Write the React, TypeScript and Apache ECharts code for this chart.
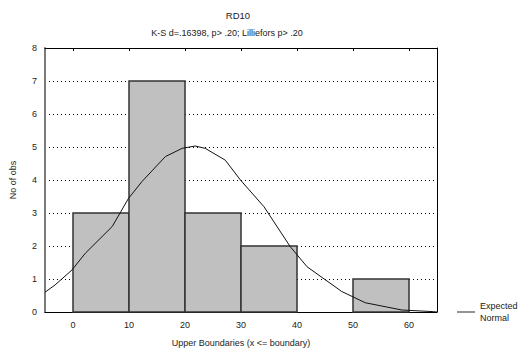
import React, { useEffect, useRef } from "react";
import * as echarts from "echarts";

const titleText = "RD10";
const subtitleText = "K-S d=.16398, p> .20; Lilliefors p> .20";
const xTicks = [0, 10, 20, 30, 40, 50, 60];
const binStarts = [0, 10, 20, 30, 40, 50];
const binEnds = [10, 20, 30, 40, 50, 60];
const counts = [3, 7, 3, 2, 0, 1];
const curveX = [-5, -3.2, -0.2, 2.2, 7.0, 9.9, 12.3, 16.5, 19.5, 21.8, 23.6, 27.2, 29.9, 34.1, 38.8, 41.8, 48.0, 52.2, 58.75, 64.4, 65];
const curveY = [0.6, 0.82, 1.27, 1.78, 2.59, 3.44, 3.95, 4.71, 4.96, 5.03, 4.96, 4.6, 4.0, 3.19, 1.98, 1.37, 0.62, 0.28, 0.06, 0.01, 0.0];

const FONT = "Liberation Sans, Arial, sans-serif";

export default function App() {
  const ref = useRef<HTMLDivElement>(null);
  useEffect(() => {
    if (!ref.current) return;
    const chart = echarts.init(ref.current, undefined, { renderer: "svg" });
    const bins = binStarts.map((s, i) => [s, binEnds[i], counts[i]]).filter((b) => b[2] > 0);
    const curve = curveX.map((x, i) => [x, curveY[i]]);
    chart.setOption({
      animation: false,
      backgroundColor: "#ffffff",
      textStyle: { fontFamily: FONT },
      title: [
        { text: titleText, left: 233, top: 5, textAlign: "center", textStyle: { fontSize: 9.5, fontWeight: "normal", color: "#222", fontFamily: FONT } },
        { text: subtitleText, left: 222, top: 23, textAlign: "center", textStyle: { fontSize: 9, fontWeight: "normal", color: "#222", fontFamily: FONT } },
      ],
      grid: { left: 43, right: 92, top: 48, bottom: 42, containLabel: false },
      xAxis: [
        {
          type: "value",
          min: -5,
          max: 65,
          name: "Upper Boundaries (x <= boundary)",
          nameLocation: "middle",
          nameGap: 26,
          nameTextStyle: { fontSize: 9, color: "#222", fontFamily: FONT },
          axisLine: { show: true, onZero: false, lineStyle: { color: "#000", width: 1 } },
          axisTick: { show: false },
          splitLine: { show: false },
          axisLabel: { customValues: xTicks, fontSize: 9, color: "#222", margin: 8, fontFamily: FONT },
        },
        {
          type: "value",
          position: "top",
          min: -5,
          max: 65,
          axisLine: { show: true, onZero: false, lineStyle: { color: "#000", width: 1 } },
          axisTick: { show: true, inside: true, length: 3, customValues: xTicks, lineStyle: { color: "#000" } },
          axisLabel: { show: false },
          splitLine: { show: false },
        },
      ],
      yAxis: [
        {
          type: "value",
          min: 0,
          max: 8,
          interval: 1,
          name: "No of obs",
          nameLocation: "middle",
          nameGap: 28,
          nameTextStyle: { fontSize: 9, color: "#222", fontFamily: FONT },
          axisLine: { show: true, onZero: false, lineStyle: { color: "#7a7a7a", width: 2 } },
          axisTick: { show: false },
          axisLabel: { fontSize: 9, color: "#222", margin: 8, fontFamily: FONT },
          splitLine: { show: true, lineStyle: { color: "#000", type: [1, 3], width: 1 } },
        },
        {
          type: "value",
          position: "right",
          min: 0,
          max: 8,
          interval: 1,
          axisLine: { show: true, onZero: false, lineStyle: { color: "#000", width: 1 } },
          axisTick: { show: false },
          axisLabel: { show: false },
          splitLine: { show: false },
        },
      ],
      legend: {
        left: 452,
        top: 295,
        orient: "vertical",
        itemWidth: 18,
        itemHeight: 10,
        itemGap: 4,
        textStyle: { fontSize: 9, color: "#222", fontFamily: FONT, lineHeight: 12 },
        data: [{ name: "Expected\nNormal", icon: "path://M0,5 L20,5 L20,6 L0,6 Z" }],
      },
      series: [
        {
          type: "custom",
          name: "bins",
          xAxisIndex: 0,
          yAxisIndex: 0,
          data: bins,
          renderItem: (params: any, api: any) => {
            const p0 = api.coord([api.value(0), api.value(2)]);
            const p1 = api.coord([api.value(1), 0]);
            return {
              type: "rect",
              shape: { x: p0[0], y: p0[1], width: p1[0] - p0[0], height: p1[1] - p0[1] },
              style: { fill: "#c0c0c0", stroke: "#333", lineWidth: 1.5 },
            };
          },
          z: 2,
        },
        {
          type: "line",
          name: "Expected\nNormal",
          xAxisIndex: 0,
          yAxisIndex: 0,
          data: curve,
          showSymbol: false,
          symbol: "none",
          smooth: false,
          lineStyle: { color: "#111", width: 1 },
          itemStyle: { color: "#111" },
          z: 3,
        },
      ],
    });
    return () => chart.dispose();
  }, []);
  return <div ref={ref} style={{ width: 529, height: 354, position: "absolute", left: 0, top: 0 }} />;
}
